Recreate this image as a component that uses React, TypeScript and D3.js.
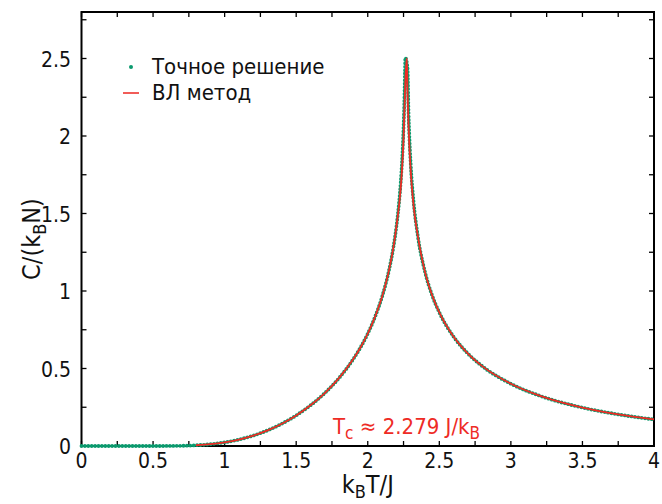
import React from 'react';
import * as d3 from 'd3';

// Exact (Onsager) solution, C/(k_B N) vs k_B T / J
const exactT = [0, 0.3, 0.5, 0.6, 0.7, 0.8, 0.9, 1.0, 1.1, 1.2, 1.3, 1.4, 1.5, 1.6, 1.7, 1.8, 1.9, 1.95, 2.0, 2.05, 2.1, 2.15, 2.18, 2.2, 2.21, 2.23, 2.24, 2.25, 2.255, 2.26, 2.2625, 2.278, 2.285, 2.29, 2.3, 2.32, 2.35, 2.4, 2.45, 2.5, 2.6, 2.7, 2.8, 3.0, 3.2, 3.5, 3.75, 4.0];
const exactC = [0, 0, 0.00003, 0.00029, 0.00144, 0.00468, 0.0115, 0.0234, 0.0416, 0.0672, 0.1009, 0.144, 0.1973, 0.2624, 0.3417, 0.4393, 0.5622, 0.6369, 0.7249, 0.8312, 0.9627, 1.1408, 1.2867, 1.4143, 1.492, 1.6976, 1.8443, 2.0525, 2.2023, 2.4176, 2.505, 2.439, 2.1517, 2.0168, 1.8223, 1.5794, 1.354, 1.123, 0.9718, 0.8617, 0.7049, 0.5962, 0.5152, 0.4014, 0.3248, 0.2477, 0.2038, 0.1711];

// Wang-Landau (ВЛ) method
const wlT = [0.8, 0.9, 1.0, 1.1, 1.2, 1.3, 1.4, 1.5, 1.6, 1.7, 1.8, 1.9, 1.95, 2.0, 2.05, 2.1, 2.15, 2.18, 2.2, 2.23, 2.24, 2.25, 2.26, 2.265, 2.2736, 2.2775, 2.28, 2.285, 2.29, 2.3, 2.32, 2.35, 2.4, 2.45, 2.5, 2.6, 2.7, 2.8, 3.0, 3.2, 3.5, 3.75, 4.0];
const wlC = [0.0047, 0.0115, 0.0234, 0.0416, 0.0672, 0.1009, 0.144, 0.1973, 0.2624, 0.3417, 0.4393, 0.5622, 0.6369, 0.7249, 0.8312, 0.9627, 1.1408, 1.2867, 1.4143, 1.661, 1.7955, 1.9804, 2.2776, 2.4, 2.5, 2.3, 2.218, 2.066, 1.95, 1.778, 1.551, 1.354, 1.123, 0.9718, 0.8617, 0.7049, 0.5962, 0.5152, 0.4014, 0.3248, 0.2477, 0.2038, 0.1711];

const xTickLabels = ['0', '0.5', '1', '1.5', '2', '2.5', '3', '3.5', '4'];
const yTickLabels = ['0', '0.5', '1', '1.5', '2', '2.5'];
const legendLabels = ['Точное решение', 'ВЛ метод'];

const W = 662;
const H = 504;
const L = 81.5, R = 654, T = 12, B = 446;
const FONT = "'DejaVu Sans Condensed', 'DejaVu Sans', sans-serif";
const GREEN = '#0b9a6e';
const RED = '#ee2b25';

export default function App() {
  const x = d3.scaleLinear().domain([0, 4]).range([L, R]);
  const y = d3.scaleLinear().domain([0, 2.8]).range([B, T]);
  const line = d3
    .line<[number, number]>()
    .x((d) => x(d[0]))
    .y((d) => y(d[1]))
    .curve(d3.curveMonotoneX);
  const exactPts = exactT.map((t, i) => [t, exactC[i]] as [number, number]);
  const wlPts = wlT.map((t, i) => [t, wlC[i]] as [number, number]);
  const minor = d3.range(0, 4.001, 0.25);
  const yMinor = d3.range(0, 2.76, 0.25);
  const tl = 5;

  return (
    <svg
      width={W}
      height={H}
      style={{ position: 'fixed', left: 0, top: 0, background: '#fff' }}
      fontFamily={FONT}
    >
      <rect x={0} y={0} width={W} height={H} fill="#fff" />
      {/* ticks */}
      <g stroke="#000" strokeWidth={1.3}>
        {minor.map((t, i) => (
          <g key={'x' + i}>
            <line x1={x(t)} x2={x(t)} y1={B} y2={B - tl} />
            <line x1={x(t)} x2={x(t)} y1={T} y2={T + tl} />
          </g>
        ))}
        {yMinor.map((v, i) => (
          <g key={'y' + i}>
            <line x1={L} x2={L + tl} y1={y(v)} y2={y(v)} />
            <line x1={R} x2={R - tl} y1={y(v)} y2={y(v)} />
          </g>
        ))}
      </g>
      <rect x={L} y={T} width={R - L} height={B - T} fill="none" stroke="#000" strokeWidth={2} />
      {/* tick labels */}
      <g fontSize={21} fill="#111">
        {xTickLabels.map((s, i) => (
          <text key={s} x={x(i * 0.5)} y={468} textAnchor="middle">
            {s}
          </text>
        ))}
        {yTickLabels.map((s, i) => (
          <text key={s} x={71} y={y(i * 0.5)} dy="0.4em" textAnchor="end">
            {s}
          </text>
        ))}
      </g>
      {/* axis titles */}
      <text x={(L + R) / 2} y={493} textAnchor="middle" fontSize={25} fill="#111">
        <tspan>k</tspan>
        <tspan fontSize={18} dy={5}>B</tspan>
        <tspan dy={-5}>T/J</tspan>
      </text>
      <text
        transform={`translate(40, ${(T + B) / 2 + 10}) rotate(-90)`}
        textAnchor="middle"
        fontSize={25}
        fill="#111"
      >
        <tspan>C/(k</tspan>
        <tspan fontSize={18} dy={6}>B</tspan>
        <tspan dy={-6}>N)</tspan>
      </text>
      {/* curves */}
      <path
        d={line(exactPts) || ''}
        fill="none"
        stroke={GREEN}
        strokeWidth={3.8}
        strokeDasharray="0 3.4"
        strokeLinecap="round"
      />
      <path d={line(wlPts) || ''} fill="none" stroke={RED} strokeWidth={1.8} />
      {/* annotation */}
      <text x={333} y={434} fontSize={22} fill={RED}>
        <tspan>T</tspan>
        <tspan fontSize={17} dy={5}>c</tspan>
        <tspan dy={-5}> ≈ 2.279 J/k</tspan>
        <tspan fontSize={17} dy={5}>B</tspan>
      </text>
      {/* legend */}
      <circle cx={131} cy={67} r={2} fill={GREEN} />
      <text x={152} y={74} fontSize={22} fill="#111">
        {legendLabels[0]}
      </text>
      <line x1={123} x2={139} y1={93} y2={93} stroke={RED} strokeWidth={1.8} opacity={0.85} />
      <text x={152} y={100} fontSize={22} fill="#111">
        {legendLabels[1]}
      </text>
    </svg>
  );
}
